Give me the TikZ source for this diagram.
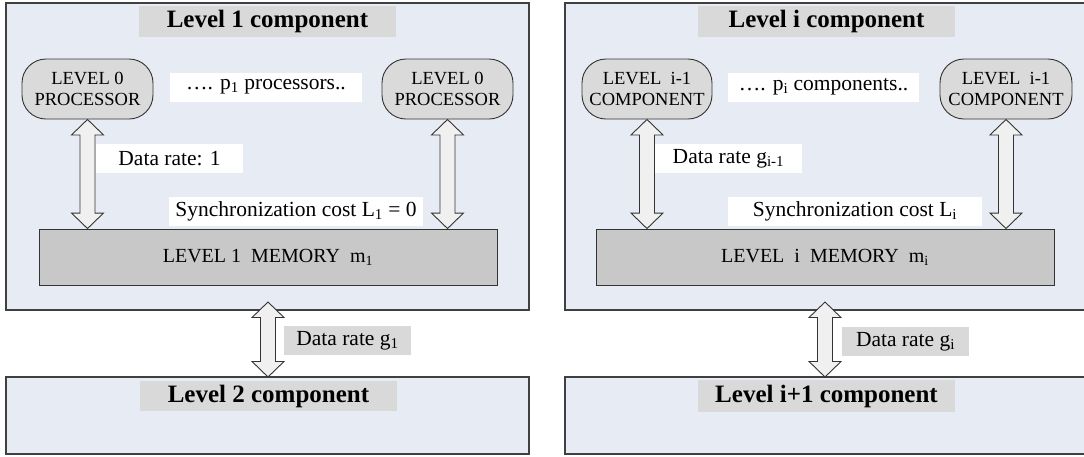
\documentclass[tikz,border=0pt]{standalone}
\usepackage{fontspec}
\setmainfont{Liberation Serif}
\usetikzlibrary{calc}

\definecolor{panelfill}{HTML}{E7EBF3}
\definecolor{panelline}{HTML}{404040}
\definecolor{titlegray}{HTML}{D9D9D9}
\definecolor{unitfill}{HTML}{DADADA}
\definecolor{unitline}{HTML}{333333}
\definecolor{memfill}{HTML}{C8C8C8}
\definecolor{memline}{HTML}{333333}
\definecolor{busfill}{HTML}{F0F0F0}
\definecolor{busline}{HTML}{333333}

\tikzset{
  panel/.style={draw=panelline, fill=panelfill, line width=1.1pt, inner sep=0pt, outer sep=0pt},
  titlebox/.style={fill=titlegray, inner sep=0pt, minimum width=257pt, minimum height=31pt,
    font=\fontsize{25}{29}\selectfont\bfseries},
  unit/.style={draw=unitline, fill=unitfill, rounded corners=24pt, line width=0.9pt,
    minimum width=131pt, minimum height=60pt, inner sep=0pt, align=center,
    font=\fontsize{18.5}{20.5}\selectfont},
  note/.style={fill=white, inner sep=0pt, minimum height=29pt, font=\fontsize{21.5}{24}\selectfont},
  ratelabel/.style={fill=titlegray, inner sep=0pt, minimum height=29pt, minimum width=127pt,
    font=\fontsize{21.5}{24}\selectfont},
  memory/.style={draw=memline, fill=memfill, line width=0.9pt, inner sep=0pt,
    minimum width=458pt, minimum height=56pt, font=\fontsize{20}{23}\selectfont},
  bus/.style={draw=busline, fill=busfill, line width=0.9pt, line join=miter}
}

% vertical double-headed block arrow from #1 (top tip) to #2 (bottom tip)
\newcommand\busarrow[2]{%
  \path[bus] let \p1=(#1), \p2=(#2) in
    (\x1,\y1) -- (\x1+16pt,\y1-15.5pt) -- (\x1+7.5pt,\y1-15.5pt)
    -- (\x1+7.5pt,\y2+15.5pt) -- (\x1+16pt,\y2+15.5pt) -- (\x1,\y2)
    -- (\x1-16pt,\y2+15.5pt) -- (\x1-7.5pt,\y2+15.5pt)
    -- (\x1-7.5pt,\y1-15.5pt) -- (\x1-16pt,\y1-15.5pt) -- cycle;}

\begin{document}
\begin{tikzpicture}[x=1pt,y=1pt]
\clip (0,0) rectangle (1084,-456);

% ---------- level 1 side ----------
\node[panel, anchor=north west, minimum width=523pt, minimum height=307pt] (top1) at (6,-3) {};
\node[panel, anchor=north west, minimum width=523pt, minimum height=77pt] (low1) at (6,-377) {};

\node[titlebox] (t1) at (267.5,-21.5) {Level 1 component};
\node[unit] (p1a) at (87.5,-89) {LEVEL 0\\PROCESSOR};
\node[unit] (p1b) at (447.5,-89) {LEVEL 0\\PROCESSOR};
\node[note, minimum width=192pt] (d1) at (266,-87) {…. p\textsubscript{1} processors..};
\node[note, minimum width=147pt] (r1) at (169.5,-158.5) {Data rate: 1};
\node[note, minimum width=254pt] (s1) at (296,-211.5) {Synchronization cost L\textsubscript{1} = 0};
\node[memory] (m1) at (268,-257) {LEVEL 1~~MEMORY~~m\textsubscript{1}};
\node[titlebox, minimum height=30pt] (t2) at (268.5,-396) {Level 2 component};
\node[ratelabel] (g1) at (347.5,-340.5) {Data rate g\textsubscript{1}};

\busarrow{p1a.south}{p1a.south |- m1.north}
\busarrow{p1b.south}{p1b.south |- m1.north}
\coordinate (u1) at ($(m1.south |- top1.south)+(0,8)$);
\busarrow{u1}{m1.south |- low1.north}

% ---------- level i side ----------
\node[panel, anchor=north west, minimum width=530pt, minimum height=307pt] (topi) at (565,-3) {};
\node[panel, anchor=north west, minimum width=530pt, minimum height=77pt] (lowi) at (565,-377) {};

\node[titlebox] (ti) at (826.5,-21.5) {Level i component};
\node[unit, minimum width=130pt] (pia) at (647,-89) {LEVEL~~i-1\\COMPONENT};
\node[unit, minimum width=132pt] (pib) at (1006,-89) {LEVEL~~i-1\\COMPONENT};
\node[note, minimum width=191pt] (di) at (823.5,-87) {…. p\textsubscript{i} components..};
\node[note, minimum width=147pt] (ri) at (728.5,-158.5) {Data rate g\textsubscript{i-1}};
\node[note, minimum width=254pt] (si) at (855,-211.5) {Synchronization cost L\textsubscript{i}};
\node[memory] (mi) at (825,-257) {LEVEL~~i~~MEMORY~~m\textsubscript{i}};
\node[titlebox, minimum height=32pt] (ti1) at (826.5,-396) {Level i+1 component};
\node[ratelabel] (gi) at (905.5,-341.5) {Data rate g\textsubscript{i}};

\busarrow{pia.south}{pia.south |- mi.north}
\busarrow{pib.south}{pib.south |- mi.north}
\coordinate (ui) at ($(mi.south |- topi.south)+(0,8)$);
\busarrow{ui}{mi.south |- lowi.north}
\end{tikzpicture}
\end{document}
